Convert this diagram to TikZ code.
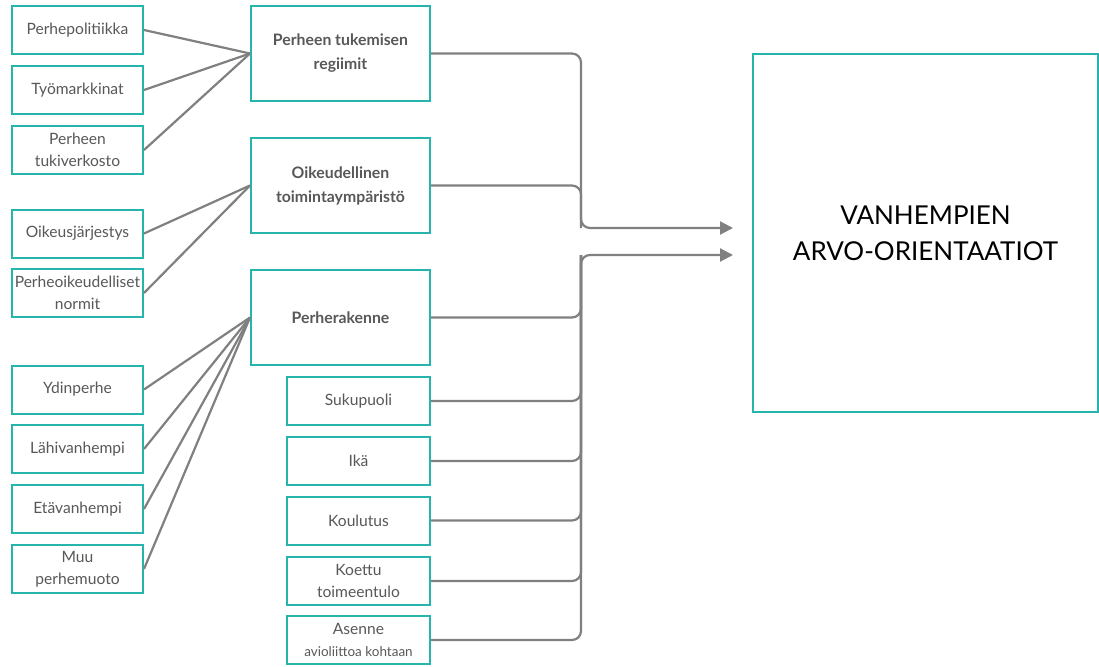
\documentclass[tikz,border=0pt]{standalone}
\usepackage{fontspec}
\setmainfont{Lato}
\usetikzlibrary{arrows.meta}
\definecolor{tealb}{RGB}{38,180,172}
\definecolor{txt}{RGB}{88,88,88}
\definecolor{lin}{RGB}{128,128,128}
\tikzset{
  box/.style={draw=tealb, line width=2pt, text=txt, align=center, inner sep=0pt,
    font=\fontsize{15.6}{22}\selectfont},
  leftbox/.style={box, minimum width=131pt, minimum height=48pt},
  midbox/.style={box, minimum width=179pt, minimum height=95pt, font=\bfseries\fontsize{15.8}{24}\selectfont},
  smallbox/.style={box, minimum width=143pt, minimum height=48pt},
  conn/.style={draw=lin, line width=2.2pt},
  rconn/.style={conn, rounded corners=9pt},
  tip/.style={-{Triangle[length=13pt,width=13pt]}}
}
\begin{document}
\begin{tikzpicture}[x=1pt,y=-1pt]
\useasboundingbox[fill=white] (0,0) rectangle (1099,666);
% left boxes
\node[leftbox] (pp) at (77.5,30) {Perhepolitiikka};
\node[leftbox] (tm) at (77.5,90) {Työmarkkinat};
\node[leftbox] (tv) at (77.5,150) {Perheen\\tukiverkosto};
\node[leftbox] (oj) at (77.5,233.5) {Oikeusjärjestys};
\node[leftbox] (pn) at (77.5,293) {Perheoikeudelliset\\normit};
\node[leftbox] (yd) at (77.5,389.5) {Ydinperhe};
\node[leftbox] (lv) at (77.5,449) {Lähivanhempi};
\node[leftbox] (ev) at (77.5,509) {Etävanhempi};
\node[leftbox] (mp) at (77.5,569) {Muu\\perhemuoto};
% middle boxes
\node[midbox] (reg) at (340.5,53.5) {Perheen tukemisen\\regiimit};
\node[midbox] (oik) at (340.5,185.5) {Oikeudellinen\\toimintaympäristö};
\node[midbox] (per) at (340.5,317.5) {Perherakenne};
% small boxes
\node[smallbox] (sp) at (358.5,401) {Sukupuoli};
\node[smallbox] (ik) at (358.5,461) {Ikä};
\node[smallbox] (ko) at (358.5,520.5) {Koulutus};
\node[smallbox] (kt) at (358.5,581) {Koettu\\toimeentulo};
\node[smallbox] (as) at (358.5,640) {Asenne\\{\fontsize{13.5}{13}\selectfont avioliittoa kohtaan}};
% big box
\node[box, minimum width=345pt, minimum height=358pt, text=black,
  font=\fontsize{26}{36}\selectfont] (big) at (925.5,233) {VANHEMPIEN\\ARVO-ORIENTAATIOT};
% left connectors
\foreach \s in {pp,tm,tv} \draw[conn] (\s.east) -- (reg.west);
\foreach \s in {oj,pn} \draw[conn] (\s.east) -- (oik.west);
\foreach \s in {yd,lv,ev,mp} \draw[conn] (\s.east) -- (per.west);
% right connectors
\coordinate (c1) at (581,228);
\coordinate (a1) at (733,228);
\coordinate (c2) at (581,255);
\coordinate (a2) at (733,255);
\draw[rconn] (oik.east) -| (c1);
\draw[rconn,tip] (reg.east) -| (c1) -- (a1);
\foreach \s in {sp,ik,ko,kt,as} \draw[rconn] (\s.east) -| (c2);
\draw[rconn,tip] (per.east) -| (c2) -- (a2);
\end{tikzpicture}
\end{document}
